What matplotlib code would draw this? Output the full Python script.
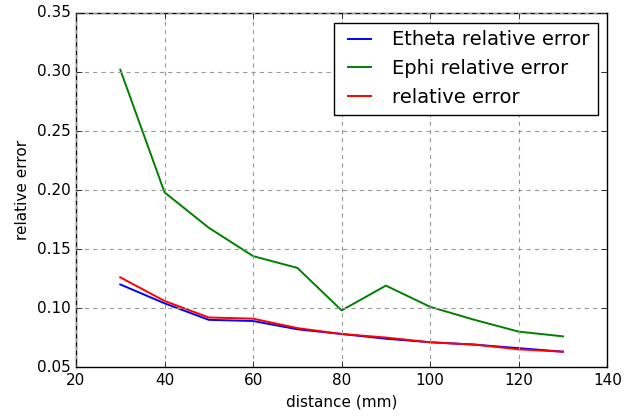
import matplotlib
matplotlib.use('Agg')
import matplotlib.pyplot as plt

plt.style.use('classic')

distance = [30, 40, 50, 60, 70, 80, 90, 100, 110, 120, 130]
etheta_err = [0.120, 0.104, 0.090, 0.089, 0.082, 0.078, 0.074, 0.071, 0.069, 0.066, 0.063]
ephi_err = [0.302, 0.198, 0.168, 0.144, 0.134, 0.098, 0.119, 0.101, 0.090, 0.080, 0.076]
total_err = [0.126, 0.106, 0.092, 0.091, 0.083, 0.078, 0.075, 0.071, 0.069, 0.065, 0.063]

fig = plt.figure(figsize=(6.44, 4.19), dpi=100)
fig.patch.set_facecolor('white')
ax = fig.add_axes([0.118, 0.124, 0.825, 0.845])
ax.plot(distance, etheta_err, 'b', linewidth=1.4, label='Etheta relative error')
ax.plot(distance, ephi_err, 'g', linewidth=1.4, label='Ephi relative error')
ax.plot(distance, total_err, 'r', linewidth=1.4, label='relative error')
ax.set_xlim(20, 140)
ax.set_ylim(0.05, 0.35)
ax.grid(True, color='0.6', linestyle=(0, (3, 3)), linewidth=0.8)
ax.set_xlabel('distance (mm)', fontsize=11)
ax.set_ylabel('relative error', fontsize=11)
ax.tick_params(labelsize=11)
ax.legend(loc='upper right', fontsize=14, handlelength=1.8)
fig.savefig('out.png', dpi=100, facecolor='white')
